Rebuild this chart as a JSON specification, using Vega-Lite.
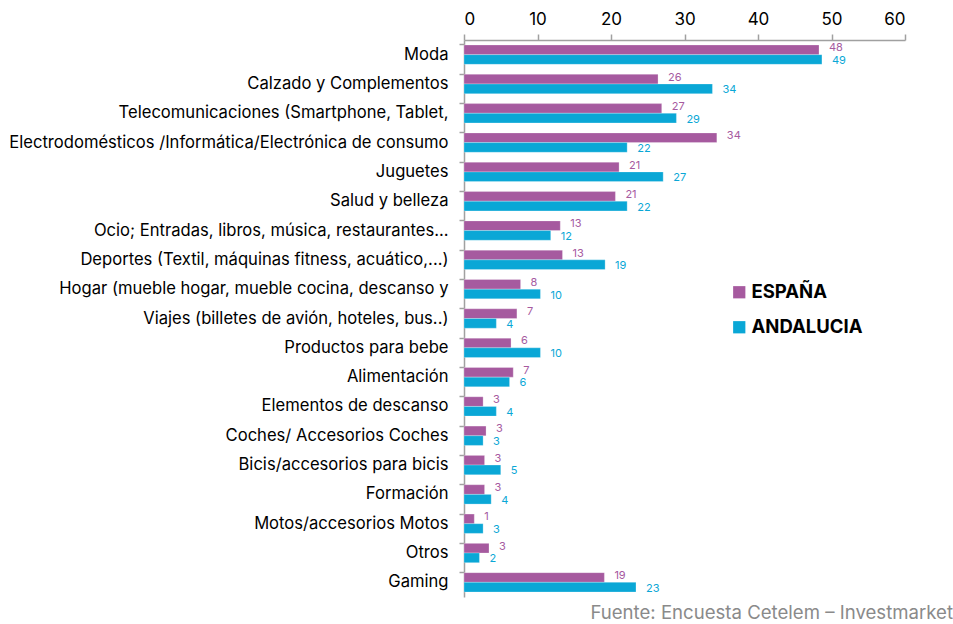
{
  "$schema": "https://vega.github.io/schema/vega-lite/v6.json",
  "autosize": "none",
  "width": 441,
  "height": 557,
  "padding": {"left": 464, "top": 40, "right": 48, "bottom": 27},
  "background": "white",
  "config": {
    "font": "Inter",
    "view": {"stroke": null}
  },
  "title": {
    "text": "Fuente: Encuesta Cetelem – Investmarket",
    "orient": "bottom",
    "anchor": "end",
    "frame": "group",
    "dx": 48,
    "offset": 7,
    "fontSize": 18.6,
    "fontWeight": "normal",
    "color": "#8a8a8a",
    "font": "Inter"
  },
  "data": {
    "values": [
      {"cat": "Moda", "serie": "ESPAÑA", "value": 48.3},
      {"cat": "Moda", "serie": "ANDALUCIA", "value": 48.7},
      {"cat": "Calzado y Complementos", "serie": "ESPAÑA", "value": 26.4},
      {"cat": "Calzado y Complementos", "serie": "ANDALUCIA", "value": 33.8},
      {"cat": "Telecomunicaciones (Smartphone, Tablet,", "serie": "ESPAÑA", "value": 26.9},
      {"cat": "Telecomunicaciones (Smartphone, Tablet,", "serie": "ANDALUCIA", "value": 28.9},
      {"cat": "Electrodomésticos /Informática/Electrónica de consumo", "serie": "ESPAÑA", "value": 34.4},
      {"cat": "Electrodomésticos /Informática/Electrónica de consumo", "serie": "ANDALUCIA", "value": 22.2},
      {"cat": "Juguetes", "serie": "ESPAÑA", "value": 21.1},
      {"cat": "Juguetes", "serie": "ANDALUCIA", "value": 27.1},
      {"cat": "Salud y belleza", "serie": "ESPAÑA", "value": 20.6},
      {"cat": "Salud y belleza", "serie": "ANDALUCIA", "value": 22.2},
      {"cat": "Ocio; Entradas, libros, música, restaurantes...", "serie": "ESPAÑA", "value": 13.1},
      {"cat": "Ocio; Entradas, libros, música, restaurantes...", "serie": "ANDALUCIA", "value": 11.8},
      {"cat": "Deportes (Textil, máquinas fitness, acuático,...)", "serie": "ESPAÑA", "value": 13.4},
      {"cat": "Deportes (Textil, máquinas fitness, acuático,...)", "serie": "ANDALUCIA", "value": 19.2},
      {"cat": "Hogar (mueble hogar, mueble cocina, descanso y", "serie": "ESPAÑA", "value": 7.7},
      {"cat": "Hogar (mueble hogar, mueble cocina, descanso y", "serie": "ANDALUCIA", "value": 10.4},
      {"cat": "Viajes (billetes de avión, hoteles, bus..)", "serie": "ESPAÑA", "value": 7.2},
      {"cat": "Viajes (billetes de avión, hoteles, bus..)", "serie": "ANDALUCIA", "value": 4.4},
      {"cat": "Productos para bebe", "serie": "ESPAÑA", "value": 6.4},
      {"cat": "Productos para bebe", "serie": "ANDALUCIA", "value": 10.4},
      {"cat": "Alimentación", "serie": "ESPAÑA", "value": 6.7},
      {"cat": "Alimentación", "serie": "ANDALUCIA", "value": 6.2},
      {"cat": "Elementos de descanso", "serie": "ESPAÑA", "value": 2.6},
      {"cat": "Elementos de descanso", "serie": "ANDALUCIA", "value": 4.4},
      {"cat": "Coches/ Accesorios Coches", "serie": "ESPAÑA", "value": 3.0},
      {"cat": "Coches/ Accesorios Coches", "serie": "ANDALUCIA", "value": 2.6},
      {"cat": "Bicis/accesorios para bicis", "serie": "ESPAÑA", "value": 2.8},
      {"cat": "Bicis/accesorios para bicis", "serie": "ANDALUCIA", "value": 5.0},
      {"cat": "Formación", "serie": "ESPAÑA", "value": 2.8},
      {"cat": "Formación", "serie": "ANDALUCIA", "value": 3.7},
      {"cat": "Motos/accesorios Motos", "serie": "ESPAÑA", "value": 1.4},
      {"cat": "Motos/accesorios Motos", "serie": "ANDALUCIA", "value": 2.6},
      {"cat": "Otros", "serie": "ESPAÑA", "value": 3.4},
      {"cat": "Otros", "serie": "ANDALUCIA", "value": 2.1},
      {"cat": "Gaming", "serie": "ESPAÑA", "value": 19.1},
      {"cat": "Gaming", "serie": "ANDALUCIA", "value": 23.4}
    ]
  },
  "encoding": {
    "y": {
      "field": "cat",
      "type": "nominal",
      "sort": null,
      "scale": {"paddingInner": 0.34, "paddingOuter": 0.17},
      "axis": {
        "title": null,
        "bandPosition": 0,
        "labelFontSize": 16.6,
        "labelFont": "Inter",
        "labelColor": "#000000",
        "labelPadding": 11,
        "labelLimit": 0,
        "tickSize": 5,
        "tickColor": "#a0a0a0",
        "tickWidth": 1.5,
        "domainColor": "#a0a0a0",
        "domainWidth": 1.5,
        "grid": false
      }
    },
    "yOffset": {
      "field": "serie",
      "type": "nominal",
      "sort": ["ESPAÑA", "ANDALUCIA"],
      "scale": {"paddingInner": 0, "paddingOuter": 0}
    },
    "x": {
      "field": "value",
      "type": "quantitative",
      "scale": {"domain": [0, 60], "nice": false},
      "axis": {
        "orient": "top",
        "title": null,
        "values": [0, 10, 20, 30, 40, 50, 60],
        "labelFontSize": 17,
        "labelFont": "Inter",
        "labelColor": "#000000",
        "labelPadding": 6,
        "tickSize": 6,
        "tickColor": "#a0a0a0",
        "tickWidth": 1.5,
        "domainColor": "#a0a0a0",
        "domainWidth": 1.5,
        "grid": false
      }
    },
    "color": {
      "field": "serie",
      "type": "nominal",
      "sort": ["ESPAÑA", "ANDALUCIA"],
      "scale": {"domain": ["ESPAÑA", "ANDALUCIA"], "range": ["#a65a9f", "#0aa7d6"]},
      "legend": {
        "title": null,
        "orient": "none",
        "legendX": 266,
        "legendY": 243,
        "symbolType": "square",
        "symbolSize": 150,
        "symbolStrokeWidth": 0,
        "labelFontSize": 18.5,
        "labelFont": "Inter",
        "labelFontWeight": "bold",
        "labelColor": "#000000",
        "labelOffset": 3,
        "rowPadding": 16
      }
    }
  },
  "layer": [
    {
      "mark": {"type": "bar", "stroke": "#ffffff", "strokeOpacity": 0.5, "strokeWidth": 0.5}
    },
    {
      "transform": [{"filter": "datum.serie === 'ESPAÑA'"}],
      "mark": {"type": "text", "align": "left", "baseline": "middle", "dx": 10, "dy": -1.5, "fontSize": 11, "font": "Inter"},
      "encoding": {
        "text": {"field": "value", "type": "quantitative", "format": ".0f"}
      }
    },
    {
      "transform": [{"filter": "datum.serie === 'ANDALUCIA'"}],
      "mark": {"type": "text", "align": "left", "baseline": "middle", "dx": 10, "dy": 1.5, "fontSize": 11, "font": "Inter"},
      "encoding": {
        "text": {"field": "value", "type": "quantitative", "format": ".0f"}
      }
    }
  ]
}
